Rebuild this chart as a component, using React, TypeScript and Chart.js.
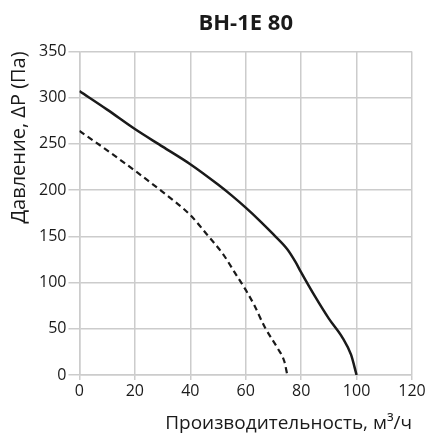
import React, { useEffect, useRef } from "react";
import { Chart, registerables } from "chart.js";

Chart.register(...registerables);

const titleText = "BH-1E 80";
const xAxisTitle = "Производительность, м³/ч";
const yAxisTitle = "Давление, ΔP (Па)";

const solidX = [0, 10, 20, 30, 40, 50, 55, 60, 65, 70, 75, 78, 80, 85, 90, 95, 98, 100];
const solidY = [307, 287, 266, 247, 228, 206, 194, 181, 167, 152, 136, 122, 111, 85, 61, 40, 22, 0];

const dashedX = [0, 10, 20, 30, 40, 46, 52, 56, 60, 63, 67, 71.5, 74, 75];
const dashedY = [264, 243, 221, 198, 173, 152, 130, 111, 92, 76, 51, 29, 14, 0];

const xMin = 0;
const xMax = 120;
const xStep = 20;
const yMin = 0;
const yMax = 350;
const yStep = 50;

const FONT = "'Open Sans', 'DejaVu Sans', sans-serif";

export default function App() {
  const ref = useRef<HTMLCanvasElement | null>(null);

  useEffect(() => {
    document.body.style.margin = "0";
    const ctx = ref.current;
    if (!ctx) return;
    const chart = new Chart(ctx, {
      type: "line",
      data: {
        datasets: [
          {
            label: "solid",
            data: solidX.map((x, i) => ({ x, y: solidY[i] })),
            borderColor: "#1a1a1a",
            borderWidth: 2.5,
            pointRadius: 0,
            cubicInterpolationMode: "monotone",
            fill: false,
          },
          {
            label: "dashed",
            data: dashedX.map((x, i) => ({ x, y: dashedY[i] })),
            borderColor: "#1a1a1a",
            borderWidth: 2.2,
            borderDash: [6, 4],
            pointRadius: 0,
            cubicInterpolationMode: "monotone",
            fill: false,
          },
        ],
      },
      options: {
        animation: false,
        responsive: false,
        maintainAspectRatio: false,
        layout: { padding: { left: 7, right: 16, top: 9, bottom: 0 } },
        plugins: {
          legend: { display: false },
          tooltip: { enabled: false },
          title: {
            display: true,
            text: titleText,
            fullSize: false,
            color: "#1a1a1a",
            font: { family: FONT, size: 22, weight: "bold" },
            padding: { top: 2, bottom: 14 },
          },
        },
        scales: {
          x: {
            type: "linear",
            min: xMin,
            max: xMax,
            ticks: {
              stepSize: xStep,
              color: "#1a1a1a",
              font: { family: FONT, size: 16 },
              padding: 2,
            },
            grid: { color: "#cccccc", lineWidth: 1.5, tickLength: 5 },
            border: { color: "#cccccc", width: 1.5 },
            title: {
              display: true,
              text: xAxisTitle,
              align: "end",
              color: "#1a1a1a",
              font: { family: FONT, size: 19 },
              padding: { top: 9, bottom: 0 },
            },
          },
          y: {
            type: "linear",
            min: yMin,
            max: yMax,
            ticks: {
              stepSize: yStep,
              color: "#1a1a1a",
              font: { family: FONT, size: 16 },
              padding: 2,
            },
            grid: { color: "#cccccc", lineWidth: 1.5, tickLength: 11 },
            border: { color: "#cccccc", width: 1.5 },
            title: {
              display: true,
              text: yAxisTitle,
              align: "end",
              color: "#1a1a1a",
              font: { family: FONT, size: 20 },
              padding: { top: 0, bottom: 6 },
            },
          },
        },
      },
    });
    return () => chart.destroy();
  }, []);

  return (
    <div style={{ width: 428, height: 435 }}>
      <canvas ref={ref} width={428} height={435} style={{ width: 428, height: 435 }} />
    </div>
  );
}
